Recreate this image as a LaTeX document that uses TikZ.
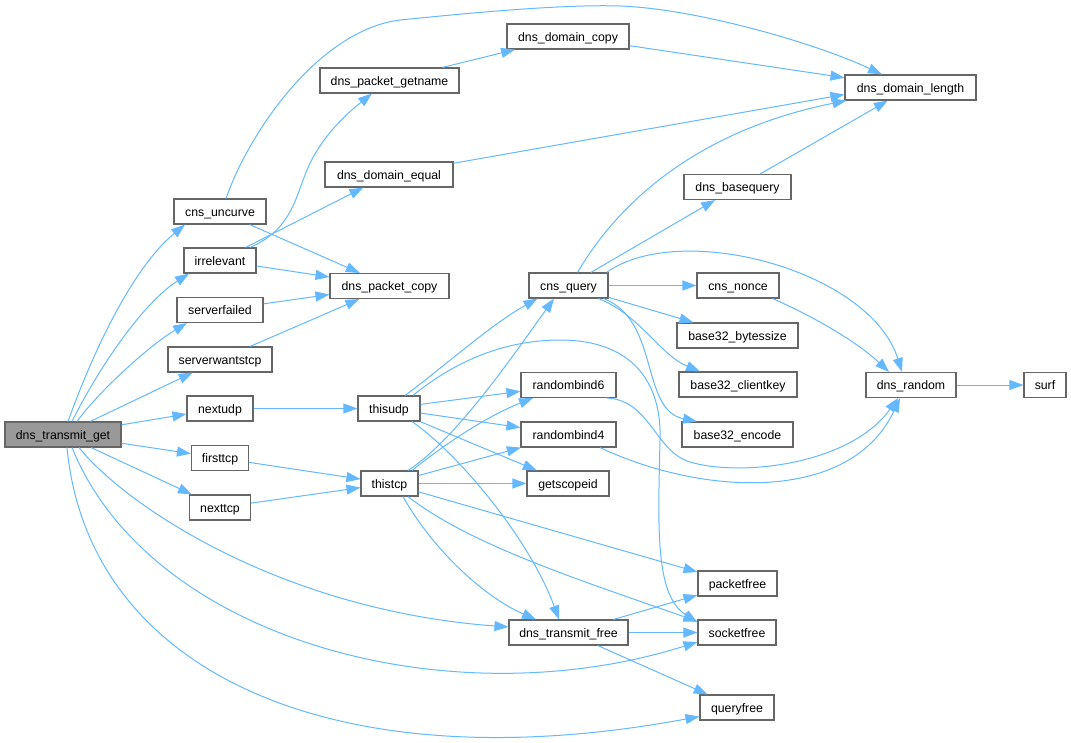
\documentclass[tikz,border=0pt]{standalone}
\usepackage{fontspec}
\setmainfont{Liberation Sans}
\usetikzlibrary{arrows.meta}
\definecolor{edgec}{HTML}{63B8FF}
\definecolor{boxc}{HTML}{666666}
\definecolor{mainfill}{HTML}{999999}
\begin{document}
\begin{tikzpicture}[x=1pt,y=-1pt,
  box/.style={draw=boxc, line width=1.1pt, fill=white, minimum height=25pt, inner sep=0pt, text height=9pt, text depth=0pt, text=black, font=\fontsize{12.3}{14}\selectfont},
  edge/.style={draw=edgec, line width=1pt, -{Triangle[length=14pt,width=10pt]}, fill=none}]
\useasboundingbox (0,0) rectangle (1071,742);
% nodes
\node[box, minimum width=116pt, fill=mainfill] (DTG) at (63,434.5) {dns\_transmit\_get};
\node[box, minimum width=92pt] (uncurve) at (220,211.5) {cns\_uncurve};
\node[box, minimum width=72pt] (irrelevant) at (220,260.5) {irrelevant};
\node[box, minimum width=86pt] (serverfailed) at (220,310) {serverfailed};
\node[box, minimum width=104pt] (serverwantstcp) at (220,359.5) {serverwantstcp};
\node[box, minimum width=66pt] (nextudp) at (220,408.5) {nextudp};
\node[box, minimum width=57pt] (firsttcp) at (220,458) {firsttcp};
\node[box, minimum width=61pt] (nexttcp) at (220,507.5) {nexttcp};
\node[box, minimum width=119pt] (pcopy) at (389.5,286) {dns\_packet\_copy};
\node[box, minimum width=139pt] (getname) at (389.5,80.5) {dns\_packet\_getname};
\node[box, minimum width=128pt] (dequal) at (389,174.5) {dns\_domain\_equal};
\node[box, minimum width=122pt] (dcopy) at (568,36.5) {dns\_domain\_copy};
\node[box, minimum width=131pt] (dlength) at (910.5,87.5) {dns\_domain\_length};
\node[box, minimum width=107pt] (basequery) at (737.5,187) {dns\_basequery};
\node[box, minimum width=79pt] (cquery) at (568.5,285.5) {cns\_query};
\node[box, minimum width=62pt] (thisudp) at (389,408.5) {thisudp};
\node[box, minimum width=57pt] (thistcp) at (389.5,483.5) {thistcp};
\node[box, minimum width=95pt] (rb6) at (568.5,385) {randombind6};
\node[box, minimum width=95pt] (rb4) at (568.5,434.5) {randombind4};
\node[box, minimum width=82pt] (getscopeid) at (568,483.5) {getscopeid};
\node[box, minimum width=82pt] (nonce) at (738,285.5) {cns\_nonce};
\node[box, minimum width=121pt] (bytessize) at (737.5,335.5) {base32\_bytessize};
\node[box, minimum width=118pt] (clientkey) at (738,384.5) {base32\_clientkey};
\node[box, minimum width=111pt] (encode) at (737.5,434.5) {base32\_encode};
\node[box, minimum width=90pt] (random) at (911,385) {dns\_random};
\node[box, minimum width=42pt] (surf) at (1045,385) {surf};
\node[box, minimum width=79pt] (packetfree) at (737.5,583.5) {packetfree};
\node[box, minimum width=119pt] (tfree) at (568.5,632.5) {dns\_transmit\_free};
\node[box, minimum width=78pt] (socketfree) at (737,632.5) {socketfree};
\node[box, minimum width=74pt] (queryfree) at (737,707.5) {queryfree};
% edges from dns_transmit_get
\draw[edge] ([xshift=5pt]DTG.north) .. controls (90,360) and (130,270) .. ([xshift=-35pt]uncurve.south);
\draw[edge] ([xshift=9pt]DTG.north) .. controls (95,375) and (140,305) .. ([xshift=-31pt]irrelevant.south);
\draw[edge] ([xshift=14pt]DTG.north) .. controls (100,390) and (150,345) .. ([xshift=-33pt]serverfailed.south);
\draw[edge] (DTG) -- (serverwantstcp);
\draw[edge] (DTG) -- (nextudp);
\draw[edge] (DTG) -- (firsttcp);
\draw[edge] (DTG) -- (nexttcp);
\draw[edge] ([xshift=16pt]DTG.south) .. controls (125,505) and (280,610) .. ([yshift=5.5pt]tfree.west);
\draw[edge] ([xshift=9pt]DTG.south) .. controls (150,640) and (450,720) .. ([yshift=-9.5pt]socketfree.west);
\draw[edge] ([xshift=4pt]DTG.south) .. controls (88,670) and (330,785) .. ([yshift=-9pt]queryfree.west);
% cns_uncurve
\draw[edge] ([xshift=6pt]uncurve.north) .. controls (250,130) and (320,30) .. (400,20) .. controls (460,14) and (560,4) .. (620,6) .. controls (700,9) and (820,45) .. ([xshift=-28.5pt]dlength.north);
\draw[edge] (uncurve) -- (pcopy);
% irrelevant
\draw[edge] ([xshift=30pt]irrelevant.north) .. controls (290,230) and (295,200) .. (305,175) .. controls (318,140) and (345,115) .. ([xshift=-17.5pt]getname.south);
\draw[edge] (irrelevant) -- (dequal);
\draw[edge] (irrelevant) -- (pcopy);
\draw[edge] (serverfailed) -- (pcopy);
\draw[edge] (serverwantstcp) -- (pcopy);
\draw[edge] (nextudp) -- (thisudp);
\draw[edge] (firsttcp) -- (thistcp);
\draw[edge] (nexttcp) -- (thistcp);
\draw[edge] (getname) -- (dcopy);
\draw[edge] (dcopy) -- (dlength);
\draw[edge] (dequal) -- ([yshift=-7pt]dlength.west);
\draw[edge] (basequery) -- (dlength);
% cns_query
\draw[edge] ([xshift=9pt]cquery.north) .. controls (620,200) and (700,130) .. ([xshift=2pt]dlength.south west);
\draw[edge] (cquery) -- (basequery);
\draw[edge] ([xshift=-2pt]cquery.north east) .. controls (680,220) and (870,270) .. ([xshift=-9pt]random.north);
\draw[edge] (cquery) -- (nonce);
\draw[edge] (cquery) -- (bytessize);
\draw[edge] ([xshift=30pt]cquery.south) .. controls (640,315) and (660,355) .. ([xshift=-38pt]clientkey.north);
\draw[edge] ([xshift=35pt]cquery.south) .. controls (660,320) and (640,410) .. ([xshift=-40.5pt]encode.north);
% thisudp
\draw[edge] ([xshift=16pt]thisudp.north) .. controls (440,370) and (490,325) .. ([xshift=-31pt]cquery.south);
\draw[edge] ([xshift=24pt]thisudp.north) .. controls (450,365) and (500,340) .. (560,340) .. controls (630,340) and (662,380) .. (660,440) .. controls (658,530) and (655,595) .. ([yshift=-3pt]socketfree.north west);
\draw[edge] (thisudp) -- (rb6);
\draw[edge] (thisudp) -- (rb4);
\draw[edge] (thisudp) -- (getscopeid);
\draw[edge] ([xshift=23pt]thisudp.south) .. controls (460,455) and (530,540) .. ([xshift=-9.5pt]tfree.north);
% thistcp
\draw[edge] ([xshift=18.5pt]thistcp.north) .. controls (455,440) and (510,360) .. ([xshift=-14.5pt]cquery.south);
\draw[edge] ([xshift=22.5pt]thistcp.north) .. controls (450,440) and (490,415) .. ([xshift=-35.5pt]rb6.south);
\draw[edge] (thistcp) -- (rb4);
\draw[edge] (thistcp) -- (getscopeid);
\draw[edge] (thistcp) -- (packetfree);
\draw[edge] ([xshift=18.5pt]thistcp.south) .. controls (470,545) and (580,580) .. ([yshift=-2pt]socketfree.north west);
\draw[edge] ([xshift=13.5pt]thistcp.south) .. controls (430,545) and (480,595) .. ([xshift=-32.5pt]tfree.north);
% randombind
\draw[edge] ([xshift=38.5pt]rb6.south) .. controls (650,400) and (655,451.5) .. (690,462) .. controls (740,477) and (850,465) .. ([xshift=-13pt]random.south);
\draw[edge] ([xshift=31.5pt]rb4.south) .. controls (700,495) and (850,505) .. ([xshift=-11pt]random.south);
\draw[edge] ([xshift=-7pt]nonce.south east) .. controls (810,315) and (855,340) .. ([xshift=-22pt]random.north);
\draw[edge] (random) -- (surf);
% dns_transmit_free
\draw[edge] (tfree) -- (packetfree);
\draw[edge] (tfree) -- (socketfree);
\draw[edge] (tfree) -- (queryfree);
\end{tikzpicture}
\end{document}
